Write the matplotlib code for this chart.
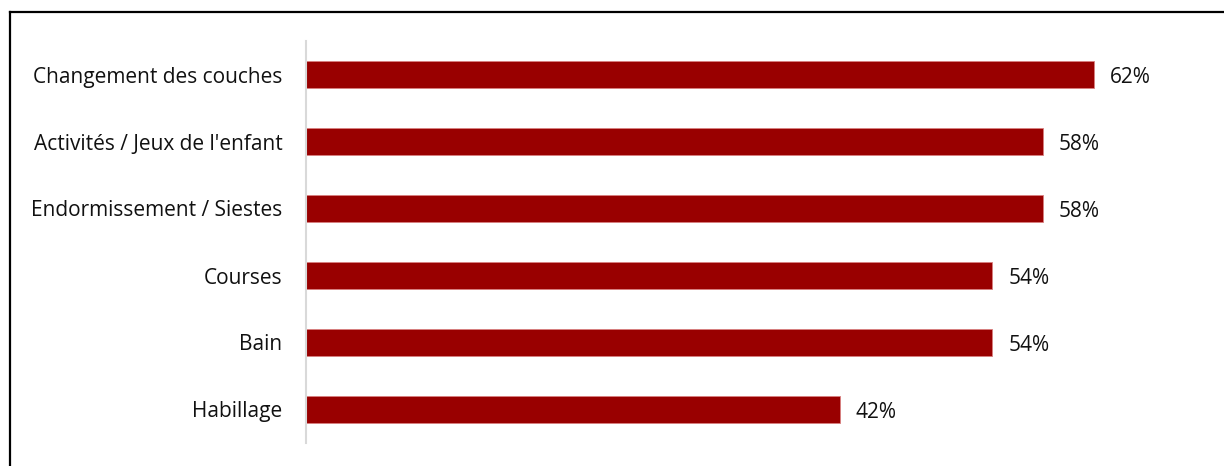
import matplotlib
matplotlib.use("Agg")
from matplotlib import pyplot as plt
from matplotlib.lines import Line2D

categories = ["Changement des couches", "Activités / Jeux de l'enfant",
              "Endormissement / Siestes", "Courses", "Bain", "Habillage"]
values = [62, 58, 58, 54, 54, 42]

BAR_COLOR = "#990000"
plt.rcParams['font.family'] = ['Open Sans', 'DejaVu Sans']
FS = 15

W, H = 1224, 466
fig = plt.figure(figsize=(W / 100, H / 100), dpi=100)
ax = fig.add_axes([306 / W, 1 - 443 / H, (1221 - 306) / W, (443 - 41) / H])

ypos = list(range(len(categories)))
ax.barh(ypos, values, height=0.4, color=BAR_COLOR, edgecolor="#d98080", linewidth=0.6)
ax.set_ylim(len(categories) - 0.5, -0.5)
ax.set_xlim(0, 72)

for y, v in zip(ypos, values):
    ax.annotate(f"{v}%", (v, y), xytext=(11.5, -2), textcoords="offset points",
                va="center", ha="left", fontsize=FS, color="#111111")

ax.set_yticks(ypos)
ax.set_yticklabels(categories, fontsize=FS, color="#111111")
ax.tick_params(axis="y", length=0, pad=17)
ax.set_xticks([])
for s in ["top", "right", "bottom"]:
    ax.spines[s].set_visible(False)
ax.spines["left"].set_color("#d9d9d9")
ax.spines["left"].set_linewidth(1.5)

# outer frame (top and left edges visible)
fig.add_artist(Line2D([10 / W, 10 / W], [0, 1 - 12 / H], transform=fig.transFigure,
                      color="black", linewidth=1.6))
fig.add_artist(Line2D([10 / W, 1], [1 - 12 / H, 1 - 12 / H], transform=fig.transFigure,
                      color="black", linewidth=1.6))

fig.savefig("out.png", dpi=100)
